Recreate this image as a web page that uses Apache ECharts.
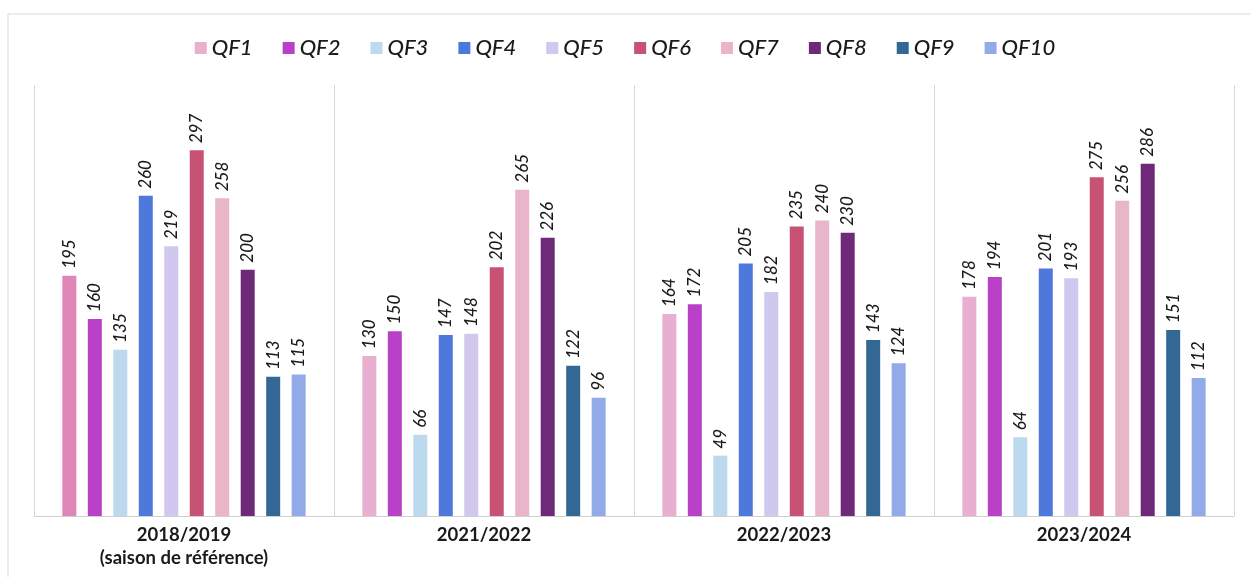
<!DOCTYPE html>
<html><head><meta charset="utf-8">
<script src="https://cdn.jsdelivr.net/npm/echarts@6/dist/echarts.min.js"></script>
<style>html,body{margin:0;padding:0;background:#fff}#c{width:1250px;height:577px}</style>
</head><body><div id="c"></div>
<script>
const categories = ['2018/2019\n(saison de référence)', '2021/2022', '2022/2023', '2023/2024'];
const seriesNames = ['QF1','QF2','QF3','QF4','QF5','QF6','QF7','QF8','QF9','QF10'];
const QF1 = [195, 130, 164, 178];
const QF2 = [160, 150, 172, 194];
const QF3 = [135, 66, 49, 64];
const QF4 = [260, 147, 205, 201];
const QF5 = [219, 148, 182, 193];
const QF6 = [297, 202, 235, 275];
const QF7 = [258, 265, 240, 256];
const QF8 = [200, 226, 230, 286];
const QF9 = [113, 122, 143, 151];
const QF10 = [115, 96, 124, 112];
const values = [QF1, QF2, QF3, QF4, QF5, QF6, QF7, QF8, QF9, QF10];
const colors = ['#e8afd0','#b941c8','#bdd9ee','#4f78dc','#d0c8ef','#c85274','#e8b6c8','#6e2a78','#336894','#92aae8'];

const chart = echarts.init(document.getElementById('c'));
const series = seriesNames.map((n, i) => ({
  name: n,
  type: 'bar',
  barWidth: 14,
  barGap: '82%',
  itemStyle: { color: colors[i] },
  data: values[i].map((v, j) => (i === 0 && j === 0) ? { value: v, itemStyle: { color: '#e085b8' } } : v),
  label: {
    show: true, position: 'top', rotate: 90, align: 'left', verticalAlign: 'middle',
    distance: 7,
    fontFamily: 'Lato', fontStyle: 'italic', fontWeight: 500, fontSize: 17, color: '#1a1a1a'
  }
}));
chart.setOption({
  animation: false,
  graphic: [{ type: 'rect', shape: { x: 8, y: 14, width: 1260, height: 620 }, style: { fill: 'none', stroke: '#d9d9d9', lineWidth: 1 } }],
  legend: {
    top: 32, left: 'center', itemWidth: 12, itemHeight: 12, itemGap: 30,
    icon: 'rect',
    textStyle: { fontFamily: 'Lato', fontStyle: 'italic', fontWeight: 500, fontSize: 22, color: '#1a1a1a' },
    data: seriesNames
  },
  grid: { left: 34, right: 16, top: 85, bottom: 61 },
  xAxis: {
    type: 'category', data: categories,
    axisLine: { lineStyle: { color: '#d0d0d0' } },
    axisTick: { show: false },
    splitLine: { show: true, showMinLine: true, showMaxLine: true, lineStyle: { color: '#d9d9d9' } },
    axisLabel: { fontFamily: 'Lato', fontWeight: 'bold', fontSize: 18.5, color: '#1a1a1a', lineHeight: 23, margin: 8 }
  },
  yAxis: { type: 'value', min: 0, max: 350, show: false, splitLine: { show: false } },
  series: series
});
</script></body></html>
